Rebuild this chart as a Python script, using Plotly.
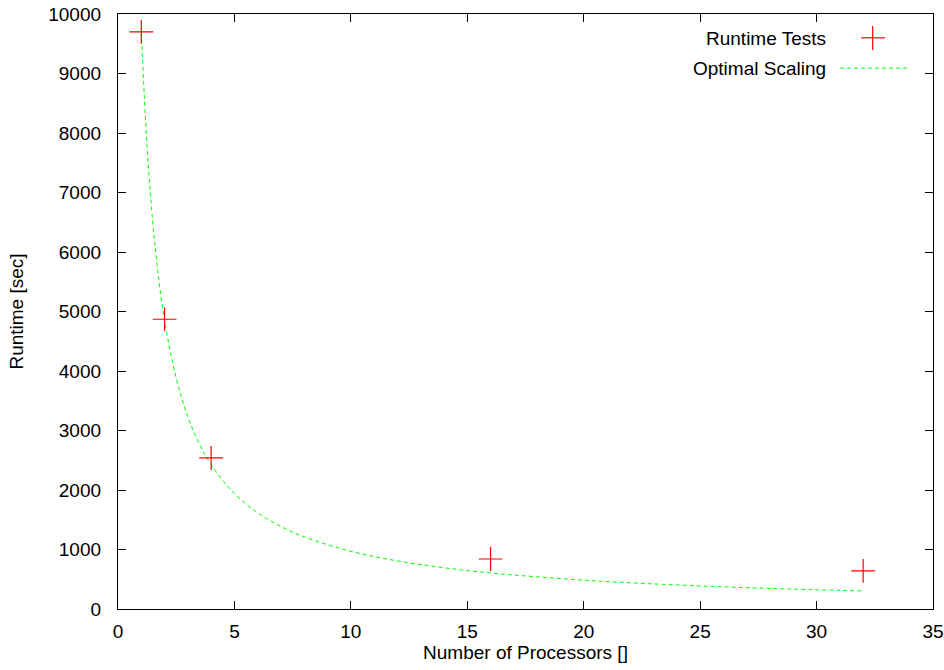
import plotly.graph_objects as go

# Measured runtimes
processors = [1, 2, 4, 16, 32]
runtime = [9700, 4870, 2540, 840, 640]

# Optimal scaling curve
opt_x = [1, 1.25, 1.5, 1.75, 2, 2.5, 3, 3.5, 4, 5, 6, 7, 8, 10, 12, 14, 16, 20, 24, 28, 32]
opt_y = [9700, 7760, 6470, 5540, 4850, 3880, 3230, 2770, 2425, 1940, 1617, 1386, 1212,
         970, 808, 693, 606, 485, 404, 346, 303]

x_ticks = [0, 5, 10, 15, 20, 25, 30, 35]
y_ticks = [0, 1000, 2000, 3000, 4000, 5000, 6000, 7000, 8000, 9000, 10000]
y_tick_text = [str(v) for v in y_ticks]

FONT = "Liberation Sans, Arial, sans-serif"
FS = 19

fig = go.Figure()
fig.add_trace(go.Scatter(
    x=opt_x, y=opt_y, mode="lines", line_shape="spline",
    line=dict(color="#00ff00", width=1, dash="4px,3px"),
    name="Optimal Scaling", showlegend=False))
fig.add_trace(go.Scatter(
    x=processors, y=runtime, mode="markers",
    marker=dict(symbol="cross-thin", size=17, color="red",
                line=dict(width=1.2, color="red")),
    name="Runtime Tests", showlegend=False))

# gnuplot-style legend: text right-aligned, sample to the right
fig.add_annotation(xref="paper", yref="paper", x=0.871, y=0.958, xanchor="right",
                   yanchor="middle", text="Runtime Tests", showarrow=False,
                   font=dict(family=FONT, size=FS, color="black"))
fig.add_annotation(xref="paper", yref="paper", x=0.871, y=0.909, xanchor="right",
                   yanchor="middle", text="Optimal Scaling", showarrow=False,
                   font=dict(family=FONT, size=FS, color="black"))
# legend samples
fig.add_shape(type="line", xref="paper", yref="paper", x0=0.9117, x1=0.941, y0=0.96, y1=0.96,
              line=dict(color="red", width=1.2))
fig.add_shape(type="line", xref="paper", yref="paper", x0=0.926, x1=0.926, y0=0.9395, y1=0.9798,
              line=dict(color="red", width=1.2))
fig.add_shape(type="line", xref="paper", yref="paper", x0=0.886, x1=0.969, y0=0.909, y1=0.909,
              line=dict(color="#00ff00", width=1, dash="4px,3px"))

axis_common = dict(showgrid=False, zeroline=False, showline=True, linecolor="black",
                   linewidth=1.3, mirror="ticks", ticks="inside", ticklen=8,
                   tickcolor="black", tickwidth=1, automargin=False,
                   tickfont=dict(family=FONT, size=FS, color="black"))

fig.update_xaxes(range=[0, 35], tickvals=x_ticks, ticklabelstandoff=5,
                 title=dict(text="Number of Processors []", standoff=3,
                            font=dict(family=FONT, size=FS, color="black")),
                 **axis_common)
fig.update_yaxes(range=[0, 10000], tickvals=y_ticks, ticktext=y_tick_text,
                 ticklabelstandoff=12,
                 title=dict(text="Runtime [sec]", standoff=19,
                            font=dict(family=FONT, size=FS, color="black")),
                 **axis_common)

fig.update_layout(width=944, height=670,
                  margin=dict(l=118, r=11, t=14, b=61, autoexpand=False),
                  plot_bgcolor="white", paper_bgcolor="white",
                  font=dict(family=FONT, size=FS, color="black"))

fig.write_html("out.html")
